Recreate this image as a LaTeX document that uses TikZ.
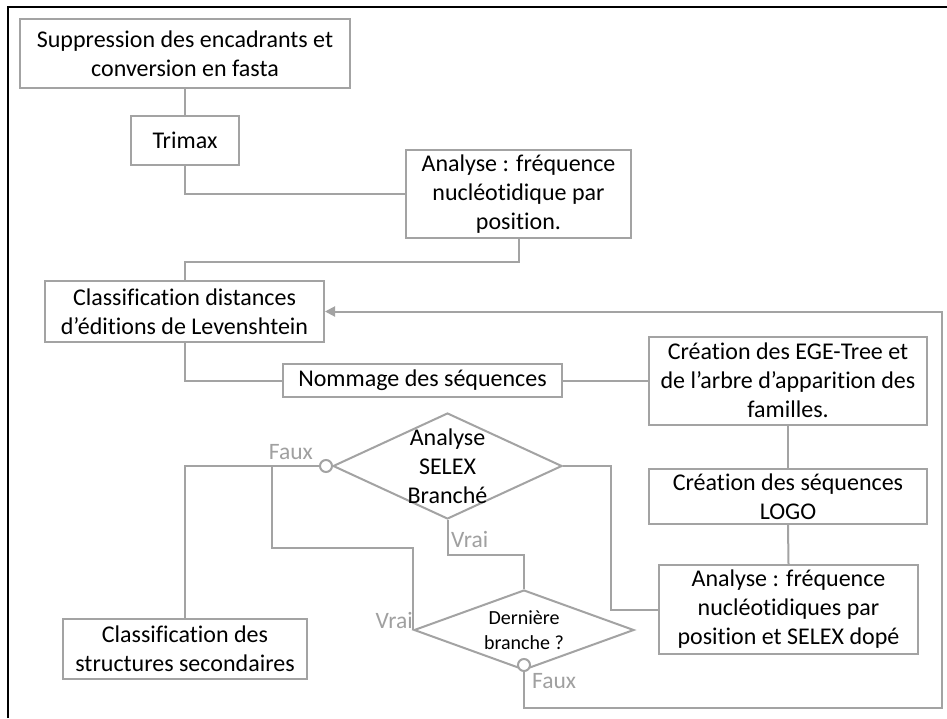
\documentclass[tikz,border=0pt]{standalone}
\usepackage{fontspec}
\setmainfont{Carlito}[Ligatures={NoCommon}]
\usetikzlibrary{shapes.geometric,arrows.meta}
\definecolor{boxgray}{HTML}{A3A3A3}
\definecolor{labgray}{HTML}{A0A0A0}
\tikzset{
  stepbox/.style={draw=boxgray, line width=2pt, rectangle, inner sep=0pt, align=center,
    font=\fontsize{24}{29}\selectfont, text=black},
  decision/.style={draw=boxgray, line width=2pt, diamond, inner sep=0pt},
  dectext/.style={align=center, inner sep=0pt, text=black},
  conn/.style={draw=boxgray, line width=2pt},
  knob/.style={draw=boxgray, line width=2pt, circle, inner sep=0pt, minimum size=12pt, fill=white},
  lab/.style={text=labgray, font=\fontsize{23.5}{28}\selectfont, inner sep=0pt}
}
\begin{document}
\begin{tikzpicture}[x=1pt,y=-1pt]
\useasboundingbox (0,0) rectangle (947,718);
\fill[white] (0,0) rectangle (947,718);
% outer frame
\draw[black, line width=2pt] (8,718) -- (8,7) -- (947,7);

% boxes
\node[stepbox, minimum width=330pt, minimum height=69pt] (supp) at (185,53.5) {Suppression des encadrants et\\conversion en fasta};
\node[stepbox, minimum width=108pt, minimum height=49pt] (trim) at (185,140.5) {Trimax};
\node[stepbox, minimum width=225pt, minimum height=88pt] (ana1) at (518.5,194) {Analyse : fréquence\\nucléotidique par\\position.};
\node[stepbox, minimum width=279pt, minimum height=61pt] (lev) at (184.5,311.5) {Classification distances\\d’éditions de Levenshtein};
\node[stepbox, minimum width=279pt, minimum height=33pt] (nom) at (422.5,380.5) {Nommage des séquences};
\node[stepbox, minimum width=278pt, minimum height=88pt] (ege) at (788,380.5) {Création des EGE-Tree et\\de l’arbre d’apparition des\\familles.};
\node[stepbox, minimum width=278pt, minimum height=55pt] (logo) at (788,496.5) {Création des séquences\\LOGO};
\node[stepbox, minimum width=259pt, minimum height=89pt] (ana2) at (788.5,609.5) {Analyse : fréquence\\nucléotidiques par\\position et SELEX dopé};
\node[stepbox, minimum width=244pt, minimum height=60pt] (sec) at (185,649) {Classification des\\structures secondaires};

% decisions
\node[decision, minimum width=229pt, minimum height=106pt] (d1) at (447.5,466) {};
\node[dectext, font=\fontsize{24}{29}\selectfont] (d1t) at (447.5,466) {Analyse\\SELEX\\Branché};
\node[decision, minimum width=220pt, minimum height=80pt] (d2) at (524,630) {};
\node[dectext, font=\fontsize{20}{25}\selectfont] (d2t) at (524,630) {Dernière\\branche ?};

% knobs
\node[knob] (k1) at ([xshift=-6pt]d1.west) {};
\node[knob] (k2) at ([yshift=6pt]d2.south) {};

% junction coordinates
\coordinate (j1) at (272,466);
\coordinate (corner) at (942,708);

% connectors
\draw[conn] (supp.south) -- (trim.north);
\draw[conn] (trim.south) |- (ana1.west);
\draw[conn] (ana1.south) -- ++(0,23) -| (lev.north);
\draw[conn] (lev.south) |- (nom.west);
\draw[conn] (nom.east) -- (ege.west);
\draw[conn] (ege.south) -- (logo.north);
\draw[conn] (logo.south) -- (ana2.north);
\draw[conn] (d1.east) -- ++(48,0) |- (ana2.west);
\draw[conn] (d1.south) -- ++(0,35) -| (d2.north);
\draw[conn] (k1.west) -| (sec.north);
\draw[conn] (d2.west) -- ++(0,-82) -| (j1);
\draw[conn, -{Triangle[length=10pt,width=10pt]}] (k2.south) |- (corner) |- (lev.east);

% labels
\node[lab, anchor=east] (lf1) at (313,452) {Faux};
\node[lab, anchor=west] (lv1) at (451,539) {Vrai};
\node[lab, anchor=east] (lv2) at (413,620) {Vrai};
\node[lab, anchor=west] (lf2) at (532,681) {Faux};
\end{tikzpicture}
\end{document}
